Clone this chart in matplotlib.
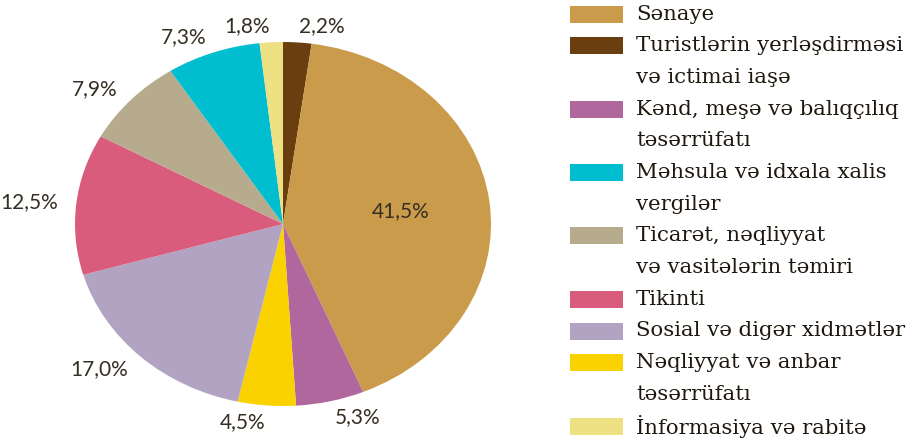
import matplotlib
matplotlib.use("Agg")
import matplotlib.pyplot as plt
import numpy as np
from matplotlib.patches import Rectangle

# Shares of sectors (per cent), clockwise from 12 o'clock
sectors = [
    "Turistlərin yerləşdirməsi\nvə ictimai iaşə",
    "Sənaye",
    "Kənd, meşə və balıqçılıq\ntəsərrüfatı",
    "Nəqliyyat və anbar\ntəsərrüfatı",
    "Sosial və digər xidmətlər",
    "Tikinti",
    "Ticarət, nəqliyyat\nvə vasitələrin təmiri",
    "Məhsula və idxala xalis\nvergilər",
    "İnformasiya və rabitə",
]
shares = [2.2, 41.5, 5.3, 4.5, 17.0, 12.5, 7.9, 7.3, 1.8]
colors = ["#6A3E0E", "#C99B4B", "#B0679D", "#FAD200", "#B3A3C2",
          "#D95C7D", "#B7AB8E", "#00BED0", "#EEE183"]

# legend order as in the reference
legend_order = ["Sənaye",
                "Turistlərin yerləşdirməsi\nvə ictimai iaşə",
                "Kənd, meşə və balıqçılıq\ntəsərrüfatı",
                "Məhsula və idxala xalis\nvergilər",
                "Ticarət, nəqliyyat\nvə vasitələrin təmiri",
                "Tikinti",
                "Sosial və digər xidmətlər",
                "Nəqliyyat və anbar\ntəsərrüfatı",
                "İnformasiya və rabitə"]

W, H = 914, 443
fig = plt.figure(figsize=(W / 100, H / 100), dpi=100)

# pie is drawn slightly elliptical, like the reference
cx, cy, rx, ry = 283, 224, 208, 182
ax = fig.add_axes([(cx - rx) / W, (H - cy - ry) / H, 2 * rx / W, 2 * ry / H])

pct_labels = [f"{v:.1f}%".replace(".", ",") for v in shares]
wedges, texts = ax.pie(shares, colors=colors, startangle=90, counterclock=False,
                       labels=pct_labels, labeldistance=1.09,
                       textprops=dict(fontsize=15, family="Lato", color="#352E22"))
ax.set_aspect("auto")
ax.set_xlim(-1, 1)
ax.set_ylim(-1, 1)

# main sector label sits inside the wedge
i_main = int(np.argmax(shares))
w = wedges[i_main]
mid = np.deg2rad((w.theta1 + w.theta2) / 2)
texts[i_main].set_position((0.57 * np.cos(mid), 0.57 * np.sin(mid)))
texts[i_main].set_ha("center")

# legend drawn by hand: line pitch fixed, swatch next to first line
color_of = dict(zip(sectors, colors))
line_y0, pitch = 14, 31.7
line = 0
for name in legend_order:
    y = line_y0 + pitch * line
    fig.patches.append(Rectangle((570 / W, 1 - (y + 8.5) / H), 53 / W, 17 / H,
                                 facecolor=color_of[name], edgecolor="none",
                                 transform=fig.transFigure))
    for part in name.split("\n"):
        y = line_y0 + pitch * line
        fig.text(636 / W, 1 - y / H, part, fontsize=15.3, family="DejaVu Serif",
                 color="#1E180F", va="center", ha="left")
        line += 1

fig.savefig("out.png", dpi=100)
